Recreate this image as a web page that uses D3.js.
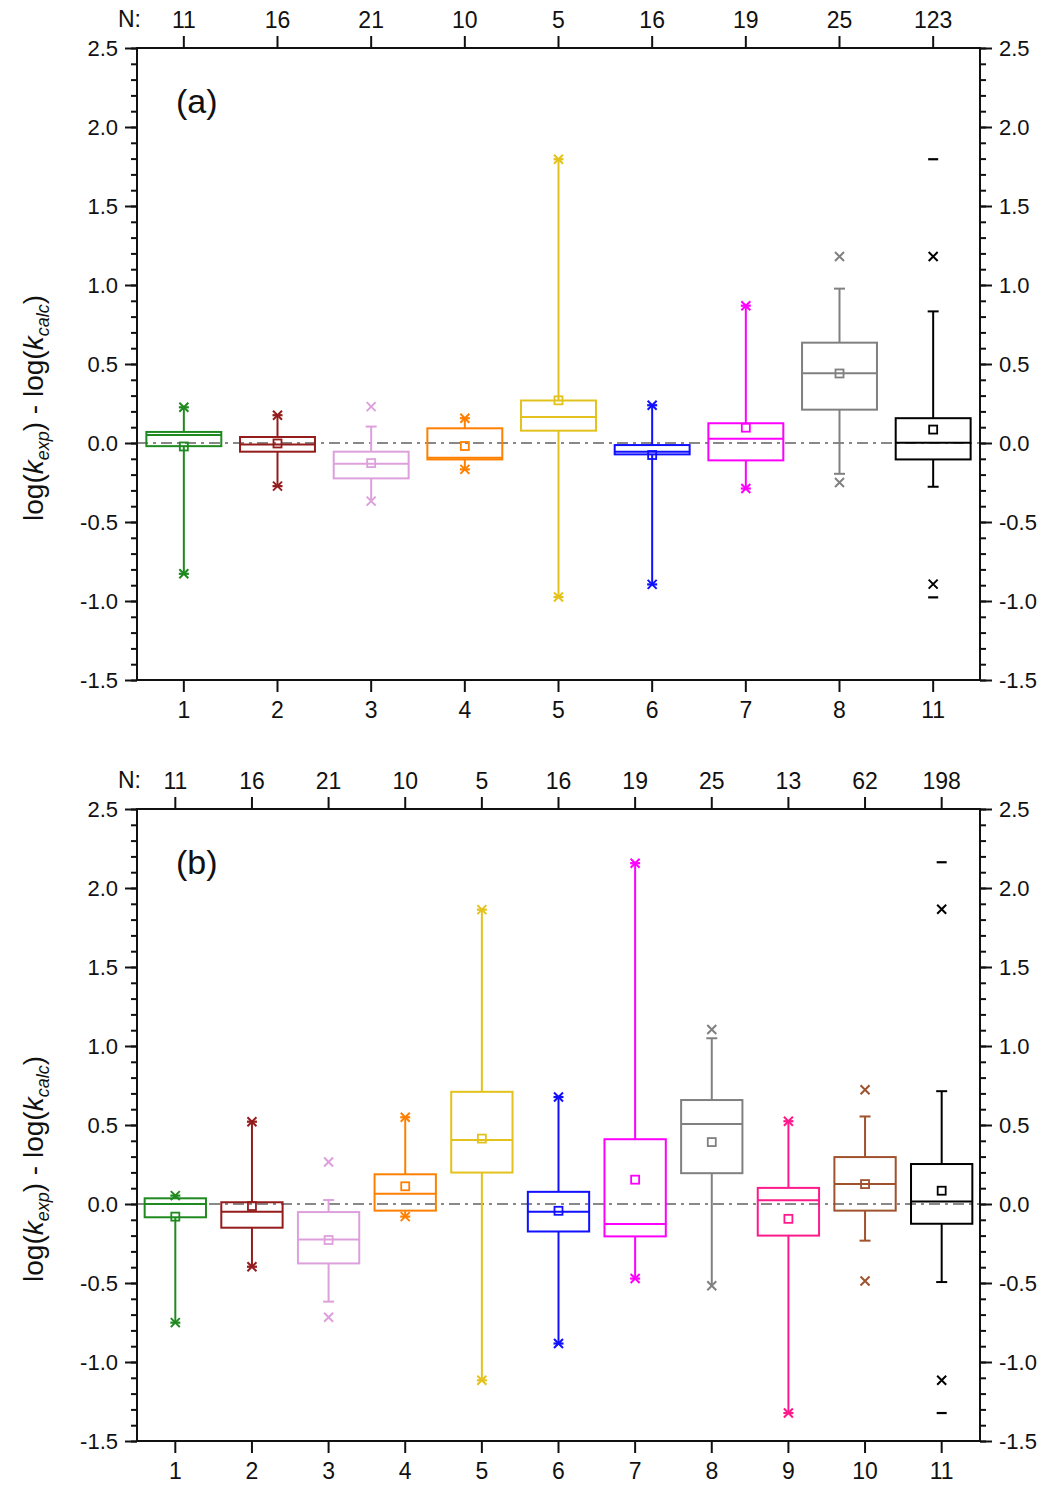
<!DOCTYPE html>
<html>
<head>
<meta charset="utf-8">
<script src="https://cdn.jsdelivr.net/npm/d3@7"></script>
<style>
  body { margin: 0; background: #fff; }
  svg { display: block; font-family: Arial, "Liberation Sans", Helvetica, sans-serif; }
</style>
</head>
<body>
<svg id="chart" width="1051" height="1489"></svg>
<script>
// data

var catsA = ["1", "2", "3", "4", "5", "6", "7", "8", "11"];
var nA = [11, 16, 21, 10, 5, 16, 19, 25, 123];
var q1A   = [-0.020, -0.055, -0.224, -0.104, 0.078, -0.072, -0.110, 0.211, -0.104];
var medA  = [0.050, -0.010, -0.131, -0.093, 0.165, -0.055, 0.027, 0.442, 0.002];
var q3A   = [0.070, 0.038, -0.055, 0.093, 0.269, -0.013, 0.125, 0.635, 0.157];
var meanA = [-0.022, -0.003, -0.127, -0.019, 0.270, -0.076, 0.097, 0.440, 0.085];
var wLoA  = [-0.828, -0.273, -0.368, -0.167, -0.975, -0.895, -0.288, -0.195, -0.277];
var wHiA  = [0.226, 0.176, 0.104, 0.157, 1.796, 0.239, 0.869, 0.977, 0.833];
var p1A   = [-0.828, -0.273, -0.368, -0.167, -0.975, -0.895, -0.288, -0.250, -0.893];
var p99A  = [0.226, 0.176, 0.230, 0.157, 1.796, 0.239, 0.869, 1.180, 1.180];
var minA  = [-0.828, -0.273, null, -0.167, -0.975, -0.895, -0.288, null, -0.977];
var maxA  = [0.226, 0.176, null, 0.157, 1.796, 0.239, 0.869, null, 1.796];

var catsB = ["1", "2", "3", "4", "5", "6", "7", "8", "9", "10", "11"];
var nB = [11, 16, 21, 10, 5, 16, 19, 25, 13, 62, 198];
var q1B   = [-0.084, -0.150, -0.376, -0.042, 0.199, -0.174, -0.205, 0.195, -0.200, -0.042, -0.125];
var medB  = [0.000, -0.049, -0.224, 0.065, 0.405, -0.049, -0.127, 0.506, 0.023, 0.126, 0.016];
var q3B   = [0.036, 0.011, -0.051, 0.188, 0.710, 0.077, 0.410, 0.658, 0.102, 0.297, 0.253];
var meanB = [-0.080, -0.013, -0.228, 0.112, 0.414, -0.043, 0.154, 0.392, -0.094, 0.126, 0.084];
var wLoB  = [-0.751, -0.397, -0.618, -0.080, -1.116, -0.883, -0.472, -0.517, -1.323, -0.232, -0.494];
var wHiB  = [0.053, 0.521, 0.025, 0.549, 1.863, 0.677, 2.157, 1.049, 0.524, 0.554, 0.714];
var p1B   = [-0.751, -0.397, -0.717, -0.080, -1.116, -0.883, -0.472, -0.517, -1.323, -0.487, -1.115];
var p99B  = [0.053, 0.521, 0.266, 0.549, 1.863, 0.677, 2.157, 1.104, 0.524, 0.723, 1.866];
var minB  = [-0.751, -0.397, null, -0.080, -1.116, -0.883, -0.472, null, -1.323, null, -1.323];
var maxB  = [0.053, 0.521, null, 0.549, 1.863, 0.677, 2.157, null, 0.524, null, 2.163];

var yTicks = [-1.5, -1.0, -0.5, 0.0, 0.5, 1.0, 1.5, 2.0, 2.5];

var colors = {
  "1": "#1f8a1f", "2": "#941c1c", "3": "#dda0dd", "4": "#ff8000",
  "5": "#e3c21d", "6": "#1010ff", "7": "#ff00ff", "8": "#808080",
  "9": "#ff1a8c", "10": "#a0522d", "11": "#000000"
};

var svg = d3.select("#chart");
var fmt = function(d) { return d3.format(".1f")(d).replace("\u2212", "-"); };
var FONT = "Arial, 'Liberation Sans', sans-serif";

function styleAxis(s, size) {
  s.select(".domain").remove();
  s.selectAll("line").attr("stroke", "#111").attr("stroke-width", 2);
  s.selectAll("text").attr("font-size", size).attr("font-family", FONT).attr("fill", "#111");
}

function panel(top, label, cats, ns, q1, med, q3, mean, wLo, wHi, p1, p99, mn, mx) {
  var left = 137, right = 980, bottom = top + 632;

  var x = d3.scaleBand().domain(cats).range([left, right]).padding(0);
  var y = d3.scaleLinear().domain([-1.5, 2.5]).range([bottom, top]);
  var bw = x.bandwidth() * 0.8;

  var g = svg.append("g");

  // zero reference line
  g.append("line")
    .attr("x1", left).attr("x2", right)
    .attr("y1", y(0)).attr("y2", y(0))
    .attr("stroke", "#888").attr("stroke-width", 1.8)
    .attr("stroke-dasharray", "11,5,3,5");

  var minor = d3.range(-15, 26).map(function(d) { return d / 10; });

  // left / right axes
  [[d3.axisLeft, left], [d3.axisRight, right]].forEach(function(a) {
    g.append("g").attr("transform", "translate(" + a[1] + ",0)")
      .call(a[0](y).tickValues(minor).tickSize(6).tickFormat(""))
      .call(function(s) { styleAxis(s, 22); });
    g.append("g").attr("transform", "translate(" + a[1] + ",0)")
      .call(a[0](y).tickValues(yTicks).tickSize(12).tickPadding(7).tickFormat(fmt))
      .call(function(s) { styleAxis(s, 22); });
  });

  // bottom axis with categories
  g.append("g").attr("transform", "translate(0," + bottom + ")")
    .call(d3.axisBottom(x).tickSize(12).tickPadding(10))
    .call(function(s) { styleAxis(s, 23); });

  // top axis with N
  g.append("g").attr("transform", "translate(0," + top + ")")
    .call(d3.axisTop(x).tickSize(12).tickPadding(8).tickFormat(function(d, i) { return ns[i]; }))
    .call(function(s) { styleAxis(s, 23); });

  g.append("text").attr("x", 141).attr("y", top - 21)
    .attr("text-anchor", "end").attr("font-size", 23).attr("fill", "#111").text("N:");

  // frame
  g.append("rect")
    .attr("x", left).attr("y", top).attr("width", right - left).attr("height", bottom - top)
    .attr("fill", "none").attr("stroke", "#111").attr("stroke-width", 2);

  // panel letter
  g.append("text").attr("x", 176).attr("y", top + 65)
    .attr("font-size", 34).attr("fill", "#111").text(label);

  // y title
  var t = g.append("text")
    .attr("transform", "translate(43," + (top + 360) + ") rotate(-90)")
    .attr("text-anchor", "middle").attr("font-size", 28).attr("fill", "#111");
  t.append("tspan").text("log(");
  t.append("tspan").attr("font-style", "italic").text("k");
  t.append("tspan").attr("font-style", "italic").attr("font-size", 18).attr("dy", 6).text("exp");
  t.append("tspan").attr("dy", -6).text(") - log(");
  t.append("tspan").attr("font-style", "italic").text("k");
  t.append("tspan").attr("font-style", "italic").attr("font-size", 18).attr("dy", 6).text("calc");
  t.append("tspan").attr("dy", -6).text(")");

  // boxes
  cats.forEach(function(c, i) {
    var cx = x(c) + x.bandwidth() / 2;
    var col = colors[c];
    var b = g.append("g").attr("stroke", col).attr("fill", "none").attr("stroke-width", 2);

    // whiskers
    b.append("line").attr("x1", cx).attr("x2", cx).attr("y1", y(q3[i])).attr("y2", y(wHi[i]));
    b.append("line").attr("x1", cx).attr("x2", cx).attr("y1", y(q1[i])).attr("y2", y(wLo[i]));
    if (Math.abs(wHi[i] - p99[i]) > 0.001)
      b.append("line").attr("x1", cx - 5.5).attr("x2", cx + 5.5).attr("y1", y(wHi[i])).attr("y2", y(wHi[i]));
    if (Math.abs(wLo[i] - p1[i]) > 0.001)
      b.append("line").attr("x1", cx - 5.5).attr("x2", cx + 5.5).attr("y1", y(wLo[i])).attr("y2", y(wLo[i]));

    // box and median
    b.append("rect")
      .attr("x", cx - bw / 2).attr("width", bw)
      .attr("y", y(q3[i])).attr("height", y(q1[i]) - y(q3[i]));
    b.append("line").attr("x1", cx - bw / 2).attr("x2", cx + bw / 2)
      .attr("y1", y(med[i])).attr("y2", y(med[i]));

    // mean
    b.append("rect").attr("x", cx - 4).attr("y", y(mean[i]) - 4)
      .attr("width", 8).attr("height", 8).attr("stroke-width", 1.8);

    // 1% / 99% crosses
    [p1[i], p99[i]].forEach(function(v) {
      var yy = y(v);
      b.append("path").attr("stroke-width", 2)
        .attr("d", "M" + (cx - 4.5) + "," + (yy - 4.5) + "L" + (cx + 4.5) + "," + (yy + 4.5) +
                   "M" + (cx - 4.5) + "," + (yy + 4.5) + "L" + (cx + 4.5) + "," + (yy - 4.5));
    });

    // min / max dashes
    [mn[i], mx[i]].forEach(function(v) {
      if (v === null) return;
      b.append("line").attr("stroke-width", 2.2)
        .attr("x1", cx - 5).attr("x2", cx + 5).attr("y1", y(v)).attr("y2", y(v));
    });
  });
}

panel(48, "(a)", catsA, nA, q1A, medA, q3A, meanA, wLoA, wHiA, p1A, p99A, minA, maxA);
panel(809, "(b)", catsB, nB, q1B, medB, q3B, meanB, wLoB, wHiB, p1B, p99B, minB, maxB);
</script>
</body>
</html>
